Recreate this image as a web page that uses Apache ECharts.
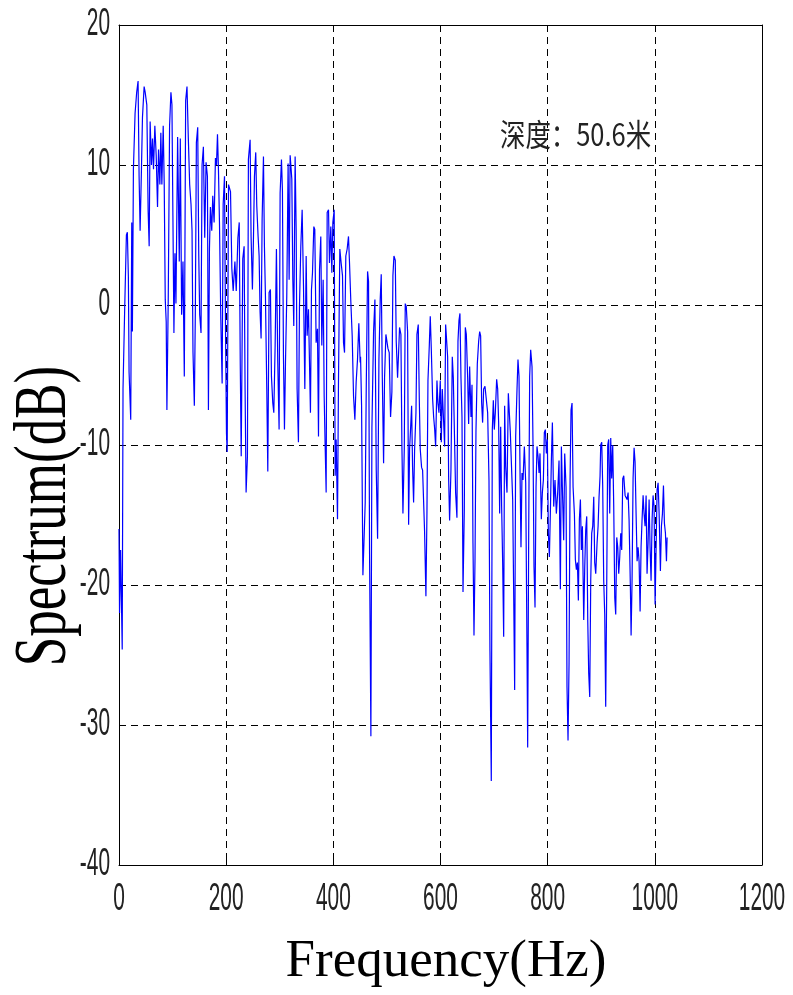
<!DOCTYPE html>
<html>
<head>
<meta charset="utf-8">
<script src="https://cdn.jsdelivr.net/npm/echarts@6/dist/echarts.min.js"></script>
<style>html,body{margin:0;padding:0;background:#fff;overflow:hidden}#c{width:793px;height:995px}</style>
</head>
<body>
<div id="c"></div>
<script>
// Axis ticks
const xTicks = [0, 200, 400, 600, 800, 1000, 1200];
const yTicks = [-40, -30, -20, -10, 0, 10, 20];
const xTitle = 'Frequency(Hz)';
const yTitle = 'Spectrum(dB)';
const depthNote = '深度：50.6米';

// Spectrum readings [frequency Hz, level dB], by band
const band0to230 = [[0,-16],[1,-22],[3,-17.5],[6,-24.6],[7.5,-6.0],[10.6,-0.3],[13.8,5.0],[15.6,5.2],[17.5,2.0],[18.8,-4.8],[21.9,-8.2],[23.8,5.9],[25,-1.9],[26.9,9.7],[30,13.7],[33,15.2],[35.6,16.0],[37.5,9.2],[39.4,5.3],[41.9,9.7],[43.8,13.4],[46.9,15.6],[48.8,15.2],[51.9,14.3],[54.4,6.7],[56.3,4.2],[58.1,13.1],[60.6,10.0],[62.5,11.9],[64.4,9.7],[66.9,12.8],[69.4,10.7],[71.9,7.0],[73.8,11.1],[76.3,8.6],[78.1,12.3],[80,8.6],[82.5,12.8],[84.4,8.6],[86.3,0.4],[88.1,-1.2],[89.4,-7.5],[91.9,0.4],[94.4,12.8],[96.9,15.2],[98.8,14.3],[100.6,6.4],[102.5,-2.0],[104.4,3.7],[106.3,0.1],[109.4,12.0],[112.5,3.1],[114.4,11.9],[116.9,-0.7],[119.4,3.1],[121.9,-5.1],[124.4,14.6],[126.9,15.6],[129.4,11.9],[131.9,8.6],[134.4,7.2],[136.3,5.3],[138.1,-3.4],[140.6,-7.2],[142.5,-0.4],[144.4,11.6],[146.9,12.7],[148.8,3.7],[150.6,-0.7],[153.1,-2.0],[155,10.0],[157.5,11.3],[160,4.8],[162.5,10.2],[165,9.2],[166.9,-7.5],[168.8,4.0],[170.6,7.0],[173.1,5.3],[175,7.8],[177.5,5.9],[180,10.5],[181.9,10.0],[183.8,12.2],[185.6,9.7],[187.5,5.9],[190,-1.0],[192.5,-5.6],[194.4,7.2],[196.9,9.2],[198.8,-1.8],[200.6,-9.2],[201.9,-10.5],[204.4,8.6],[208.1,8.1],[210.6,2.6],[213.1,1.0],[216.3,3.1],[218.8,1.0],[221.9,4.8],[224.4,5.9],[226.3,-4.2],[228.1,-10.8]];
const band230to450 = [[231,3.3],[233.5,4.2],[235.3,-6.0],[237.2,-13.4],[239.7,-10.8],[241.5,10.4],[244.7,11.8],[246.5,4.9],[249,1.1],[250.9,4.7],[252.8,9.2],[255.2,10.9],[257.1,7.1],[259.6,4.9],[261.5,3.5],[263.3,-0.5],[265.2,-2.4],[267.1,6.1],[269.6,10.6],[271.4,4.2],[273.3,0.6],[275.8,-6.0],[277.7,-11.9],[280.1,0.9],[282.6,1.1],[284.5,-5.1],[287,-7.0],[288.9,-7.7],[291.4,-2.9],[293.8,4.0],[296.3,-4.1],[298.8,-8.9],[300.7,8.0],[303.2,10.4],[305,8.2],[306.9,-3.6],[308.8,-8.9],[310.7,-4.1],[313.1,0.6],[315.6,10.1],[317.5,1.8],[319.4,10.7],[322.5,9.0],[324.4,1.8],[326.2,-1.5],[328.7,10.6],[330.6,5.4],[332.4,-6.0],[334.9,-9.8],[336.8,-0.1],[339.3,4.2],[341.8,6.8],[344.3,1.4],[346.8,-6.0],[349.3,3.5],[351.1,-2.2],[353.6,-0.3],[355.5,-4.1],[357.3,-7.7],[359.2,1.1],[361.1,2.3],[363.6,5.6],[365.4,5.4],[367.9,-2.7],[370.4,-1.7],[372.3,-9.4],[374.2,2.5],[376.6,4.9],[378.5,-2.9],[381,1.8],[382.9,-6.5],[384.7,-10.0],[386.6,-13.4],[388.5,6.6],[391,6.8],[392.8,3.0],[395.3,5.6],[397.2,2.3],[399.1,5.9],[401.6,6.8],[403.4,-12.2],[405.3,-9.6],[407.8,-15.3],[409.6,-5.5],[412.1,4.0],[414.6,3.0],[417.1,2.1],[419,-2.7],[420.9,-3.4],[423.3,3.5],[425.8,4.0],[428.3,4.9],[430.2,3.0],[432.7,0.2],[435.2,-2.2],[437.7,-6.5],[440.2,-8.2],[442.6,-5.5],[445.1,-3.9],[447.6,-1.3],[450.1,-4.1]];
const band450to675 = [[450.8,-3.7],[452.7,-7.2],[455.2,-19.3],[457.7,-19.4],[459.5,-14.1],[461.4,-6.0],[463.9,2.4],[465.7,1.7],[467.6,-17.7],[470.1,-30.8],[472,-8.8],[475.1,-1.9],[477.6,0.4],[480.1,-11.8],[482.6,-16.7],[485.1,-3.9],[487.5,0.4],[489.4,2.2],[491.3,-4.9],[493.8,-11.3],[495.6,-5.2],[498.1,-2.1],[500,-2.6],[501.9,-3.1],[504.3,-3.4],[506.8,-8.0],[509.3,-6.2],[511.2,2.1],[513.1,3.5],[515.6,3.2],[517.4,-2.6],[519.9,-5.2],[521.8,-3.4],[523.6,-1.6],[526.1,-2.1],[528,-10.1],[529.9,-14.9],[532.4,-10.3],[534.2,0.1],[536.1,-0.1],[538.6,-1.9],[540.5,-15.7],[542.3,-10.3],[544.2,-8.8],[546.1,-7.2],[547.9,-11.6],[549.8,-14.1],[551.7,-10.3],[554.2,-7.7],[556,-2.1],[558.5,-1.4],[560.4,-6.7],[562.2,-10.3],[564.7,-11.6],[566.6,-11.8],[568.5,-11.8],[570.3,-16.2],[572.8,-20.8],[574.7,-14.9],[576.6,-5.4],[579.1,-2.9],[580.9,-0.8],[582.8,-3.1],[585.3,-6.7],[587.2,-8.0],[589,-8.8],[590.9,-10.1],[593.4,-5.4],[595.2,-7.0],[597.1,-7.7],[599.6,-5.4],[601.5,-9.8],[603.3,-6.0],[605.8,-8.3],[607.7,-10.1],[609.6,-1.4],[611.4,-1.4],[613.3,-3.7],[615.2,-12.4],[617,-15.4],[619.5,-11.8],[622,-3.7],[623.9,-5.2],[625.8,-8.8],[628.2,-13.4],[630.7,-15.2],[632.6,-2.6],[634.5,-1.1],[636.3,-0.6],[638.2,-5.2],[640.1,-8.0],[642,-20.5],[644.4,-14.7],[646.3,-1.6],[648.2,-2.1],[650.7,-5.2],[652.5,-8.5],[654.4,-4.4],[656.9,-8.0],[658.8,-5.7],[660.6,-17.0],[662.5,-23.6],[664.4,-18.2],[666.2,-9.0],[668.7,-4.2],[671.2,-2.6],[673.1,-1.9]];
const band675to900 = [[674.9,-2.2],[676.8,-7.0],[678.6,-8.4],[680.5,-6.0],[683,-5.8],[685.5,-5.8],[688,-7.7],[690.5,-12.5],[692.3,-24.7],[694.8,-34.0],[696.7,-8.9],[698.6,-6.8],[700.4,-8.9],[702.3,-7.7],[704.8,-5.3],[706.7,-6.0],[708.5,-8.4],[710.4,-14.9],[712.3,-8.7],[714.1,-14.4],[716,-18.4],[717.9,-23.7],[719.7,-7.2],[721.6,-11.5],[724.1,-13.4],[726.6,-6.3],[728.4,-6.3],[730.3,-9.1],[732.8,-9.1],[734.7,-13.9],[736.5,-20.3],[738.4,-27.5],[740.3,-9.4],[742.8,-6.0],[744.6,-3.9],[746.5,-5.1],[748.4,-11.8],[750.2,-17.3],[752.1,-12.0],[754,-12.5],[756.5,-10.1],[759,-12.7],[761.4,-24.4],[762.7,-31.6],[764.6,-16.3],[766.4,-5.1],[768.3,-3.2],[770.8,-4.4],[772.7,-10.1],[774.5,-18.7],[776.4,-21.6],[778.3,-13.0],[780.1,-10.1],[782,-10.8],[783.9,-12.0],[785.7,-10.6],[788.2,-15.3],[790.1,-13.4],[792,-12.5],[793.8,-9.1],[795.7,-8.9],[797.6,-10.6],[799.4,-9.6],[801.3,-16.3],[803.2,-18.0],[805,-14.9],[806.9,-11.1],[808.8,-8.4],[811.3,-14.4],[813.7,-12.5],[816.2,-14.9],[818.7,-13.4],[821.2,-11.1],[823.7,-20.3],[825.6,-10.1],[827.4,-13.0],[829.9,-16.8],[831.8,-10.6],[834.3,-13.0],[836.1,-27.3],[838,-31.1],[839.9,-25.6],[841.8,-12.5],[843.6,-7.5],[845.5,-7.0],[847.4,-13.0],[849.9,-14.9],[851.7,-18.2],[853.6,-18.9],[855.5,-18.4],[857.3,-21.1],[859.2,-15.3],[861.1,-13.9],[862.9,-17.5],[864.8,-15.8],[867.3,-22.5],[869.2,-18.7],[871,-16.1],[872.9,-15.1],[874.8,-22.5],[876.6,-26.3],[878.5,-28.0],[880.4,-19.6],[882.2,-16.3],[884.1,-15.8],[886,-13.7],[887.8,-18.4],[889.7,-19.2],[892.2,-17.0],[894.1,-15.8],[895.9,-13.7],[897.8,-12.2]];
const band900to1024 = [[899,-10.0],[900.9,-9.8],[902.7,-12.9],[904.6,-19.7],[906.5,-22.1],[908.3,-28.7],[910.2,-20.2],[912.1,-10.0],[913.9,-9.6],[915.8,-14.9],[917.7,-9.5],[919.5,-12.4],[921.4,-10.0],[923.3,-14.4],[925.2,-20.9],[927,-22.1],[928.9,-16.6],[930.8,-17.3],[932.6,-19.2],[934.5,-18.0],[936.4,-16.3],[938.2,-17.5],[940.1,-12.4],[942,-12.2],[944.5,-13.6],[946.3,-13.6],[948.2,-13.9],[950.1,-13.4],[951.9,-15.3],[954.4,-20.2],[955.7,-23.6],[957.5,-19.7],[959.4,-12.4],[961.3,-10.2],[963.1,-11.2],[965,-14.9],[966.9,-18.3],[968.7,-17.3],[970.6,-18.3],[972.5,-21.9],[974.3,-17.3],[976.2,-15.3],[978.1,-13.6],[979.9,-14.9],[981.8,-15.8],[983.7,-13.6],[985.5,-19.2],[987.4,-17.0],[989.3,-13.9],[991.1,-17.3],[993,-19.7],[994.9,-15.3],[996.7,-13.6],[998.6,-14.4],[1000.5,-21.4],[1002.4,-17.3],[1004.2,-13.2],[1006.1,-12.7],[1008,-14.9],[1010.4,-19.0],[1012.3,-15.8],[1014.2,-14.9],[1016.1,-12.9],[1017.9,-15.6],[1019.8,-16.3],[1021.7,-18.3],[1022.9,-16.6]];

const spectrum = [].concat(band0to230, band230to450, band450to675, band675to900, band900to1024);

const tickFont = "'Liberation Sans',Arial,sans-serif";
const titleFont = "'Liberation Serif','Times New Roman',serif";

const chart = echarts.init(document.getElementById('c'), null, {renderer: 'canvas'});
const dashed = {show: true, lineStyle: {color: '#000', width: 1, type: [7, 5]}};
const axLine = {show: true, onZero: false, lineStyle: {color: '#000', width: 1}};
const tick = {show: true, inside: true, length: 5, lineStyle: {color: '#000'}};

chart.setOption({
  animation: false,
  backgroundColor: '#fff',
  grid: {left: 119, right: 31, top: 25, bottom: 130, outerBoundsMode: 'none', containLabel: false},
  xAxis: [
    {type: 'value', position: 'bottom', min: xTicks[0], max: xTicks[xTicks.length - 1], interval: xTicks[1] - xTicks[0],
     axisLine: axLine, axisTick: tick, splitLine: dashed, axisLabel: {show: false}},
    {type: 'value', position: 'top', min: xTicks[0], max: xTicks[xTicks.length - 1], interval: xTicks[1] - xTicks[0],
     axisLine: axLine, axisTick: {show: false}, splitLine: {show: false}, axisLabel: {show: false}}
  ],
  yAxis: [
    {type: 'value', position: 'left', min: yTicks[0], max: yTicks[yTicks.length - 1], interval: yTicks[1] - yTicks[0],
     axisLine: axLine, axisTick: tick, splitLine: dashed, axisLabel: {show: false}},
    {type: 'value', position: 'right', min: yTicks[0], max: yTicks[yTicks.length - 1], interval: yTicks[1] - yTicks[0],
     axisLine: axLine, axisTick: {show: false}, splitLine: {show: false}, axisLabel: {show: false}}
  ],
  series: [{
    type: 'line', xAxisIndex: 0, yAxisIndex: 0, data: spectrum,
    showSymbol: false, symbol: 'none', silent: true,
    lineStyle: {color: '#0000ff', width: 1.2}
  }]
});

// Tick labels placed through the axes' own scales (condensed like the original)
const labelFont = "38px " + tickFont;
const g = [];
const y0 = chart.convertToPixel({yAxisIndex: 0}, yTicks[0]);
const x0 = chart.convertToPixel({xAxisIndex: 0}, xTicks[0]);
xTicks.forEach((v, i) => {
  g.push({type: 'text', id: 'xl' + i, silent: true,
    x: chart.convertToPixel({xAxisIndex: 0}, v), y: y0 + 35, scaleX: 0.55,
    style: {text: String(v), font: labelFont, fill: '#222', align: 'center', verticalAlign: 'middle'}});
});
yTicks.forEach((v, i) => {
  g.push({type: 'text', id: 'yl' + i, silent: true,
    x: x0 - 9, y: chart.convertToPixel({yAxisIndex: 0}, v), scaleX: 0.55,
    style: {text: String(v), font: labelFont, fill: '#222', align: 'right', verticalAlign: 'middle'}});
});
g.push({type: 'text', id: 'xt', silent: true, x: 446, y: 962,
  style: {text: xTitle, font: "53px " + titleFont, fill: '#000', align: 'center', verticalAlign: 'middle'}});
g.push({type: 'text', id: 'yt', silent: true, x: 46, y: 516, rotation: Math.PI / 2, scaleY: 1.38,
  style: {text: yTitle, font: "53px " + titleFont, fill: '#000', align: 'center', verticalAlign: 'middle'}});
g.push({type: 'text', id: 'note', silent: true, x: 500, y: 134, scaleX: 0.82,
  style: {text: depthNote, font: "31px 'Noto Sans CJK SC', sans-serif", fill: '#222', align: 'left', verticalAlign: 'middle'}});
chart.setOption({graphic: g});
</script>
</body>
</html>
